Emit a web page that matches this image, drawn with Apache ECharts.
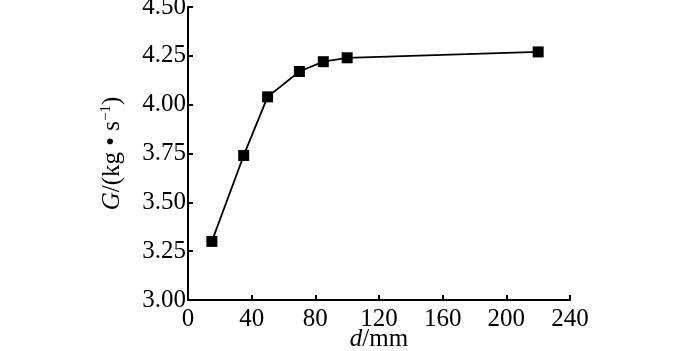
<!DOCTYPE html>
<html><head><meta charset="utf-8">
<script src="https://cdn.jsdelivr.net/npm/echarts@6/dist/echarts.min.js"></script>
<style>html,body{margin:0;padding:0;background:#fff}#c{width:700px;height:351px}</style>
</head><body><div id="c"></div>
<script>
const dValues = [15, 35, 50, 70, 85, 100, 220];
const gValues = [3.30, 3.74, 4.04, 4.17, 4.22, 4.24, 4.27];
const xTicks = [0, 40, 80, 120, 160, 200, 240];
const yTicks = ['3.00', '3.25', '3.50', '3.75', '4.00', '4.25', '4.50'];

const font = '"Liberation Serif", "Times New Roman", serif';
const fs = 25;
const chart = echarts.init(document.getElementById('c'));
chart.setOption({
  animation: false,
  backgroundColor: '#fff',
  grid: { left: 188, right: 130, top: 7, bottom: 51, containLabel: false, outerBoundsMode: 'none' },
  xAxis: {
    type: 'value', min: 0, max: 240, interval: 40,
    name: '{i|d}{n|/mm}', nameLocation: 'middle', nameGap: 27, nameMoveOverlap: false,
    nameTextStyle: { rich: {
      i: { fontFamily: font, fontStyle: 'italic', fontSize: fs, color: '#000' },
      n: { fontFamily: font, fontSize: fs, color: '#000' } } },
    axisLine: { lineStyle: { color: '#000', width: 2 } },
    axisTick: { inside: true, length: 5, lineStyle: { color: '#000', width: 2 } },
    axisLabel: { fontFamily: font, fontSize: fs, color: '#000', margin: 7,
      formatter: v => String(xTicks[xTicks.indexOf(v)]) },
    splitLine: { show: false }
  },
  yAxis: {
    type: 'value', min: 3.0, max: 4.5, interval: 0.25,
    name: '{i|G}{n|/(kg • s}{s|−1}{n|)}', nameLocation: 'middle', nameGap: 62, nameMoveOverlap: false,
    nameTextStyle: { rich: {
      i: { fontFamily: font, fontStyle: 'italic', fontSize: fs, color: '#000' },
      n: { fontFamily: font, fontSize: fs, color: '#000' },
      s: { fontFamily: font, fontSize: 15, color: '#000', verticalAlign: 'top', padding: [0,0,12,0] } } },
    axisLine: { show: true, lineStyle: { color: '#000', width: 2 } },
    axisTick: { show: true, inside: true, length: 5, lineStyle: { color: '#000', width: 2 } },
    axisLabel: { fontFamily: font, fontSize: fs, color: '#000', margin: 2,
      formatter: v => yTicks[Math.round((v - 3) / 0.25)] },
    splitLine: { show: false }
  },
  series: [{
    type: 'line',
    data: dValues.map((d, i) => [d, gValues[i]]),
    symbol: 'rect', symbolSize: 11,
    itemStyle: { color: '#000' },
    lineStyle: { color: '#000', width: 1.8 }
  }]
});
</script></body></html>
